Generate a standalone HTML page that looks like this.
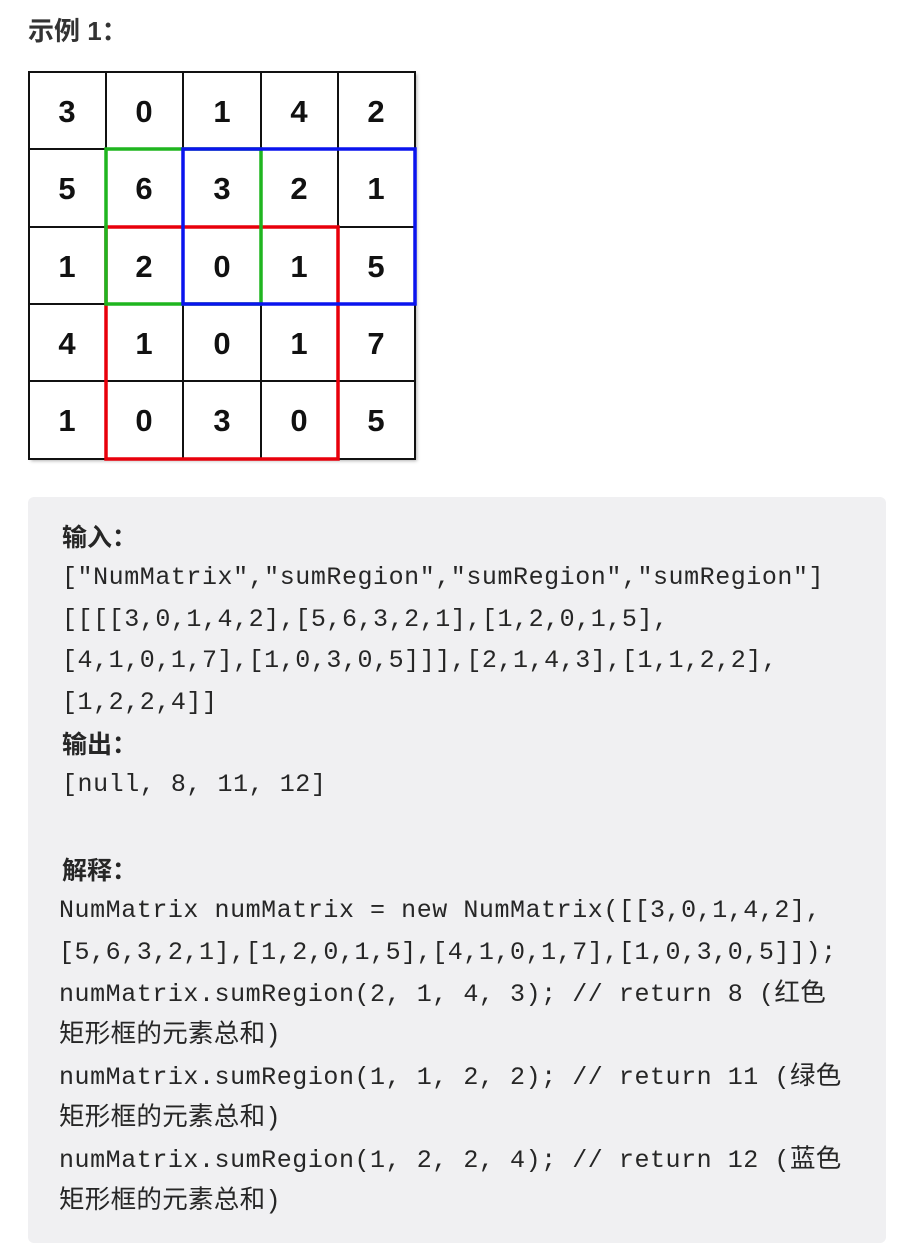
<!DOCTYPE html>
<html><head><meta charset="utf-8"><style>
body{margin:0;width:900px;height:1258px;background:#fff;position:relative;overflow:hidden;font-family:"Liberation Sans","Noto Sans CJK SC",sans-serif;color:#262626}
.t{position:absolute;left:28px;top:11px;font-size:26px;font-weight:bold;color:#333}
.box{position:absolute;left:28px;top:497px;width:858px;height:746px;background:#f0f0f2;border-radius:6px}
.l{position:absolute;white-space:pre;font-family:"Liberation Mono","Noto Sans CJK SC",monospace;font-size:25px;letter-spacing:0.55px;line-height:40px;color:#262626}
.c{font-size:25.5px;letter-spacing:0.3px}
.b{font-family:"Liberation Sans","Noto Sans CJK SC",sans-serif;font-weight:bold;font-size:25px;letter-spacing:0}
</style></head><body>
<div class="t">示例 1：</div>
<svg style="position:absolute;left:0;top:0" width="450" height="470">
<defs><filter id="s"><feDropShadow dx="2" dy="2" stdDeviation="1.5" flood-opacity="0.3"/></filter></defs>
<rect x="29" y="72" width="386" height="387" fill="#fff" filter="url(#s)"/>
<g stroke="#111" stroke-width="2" fill="none">
<rect x="29" y="72" width="386" height="387"/>
<path d="M106 72V459M183 72V459M261 72V459M338 72V459M29 149H415M29 227H415M29 304H415M29 381H415"/>
</g>
<g font-family="Liberation Sans" font-weight="bold" font-size="31" text-anchor="middle" fill="#111">
<text x="67" y="122">3</text><text x="144" y="122">0</text><text x="222" y="122">1</text><text x="299" y="122">4</text><text x="376" y="122">2</text>
<text x="67" y="199">5</text><text x="144" y="199">6</text><text x="222" y="199">3</text><text x="299" y="199">2</text><text x="376" y="199">1</text>
<text x="67" y="277">1</text><text x="144" y="277">2</text><text x="222" y="277">0</text><text x="299" y="277">1</text><text x="376" y="277">5</text>
<text x="67" y="354">4</text><text x="144" y="354">1</text><text x="222" y="354">0</text><text x="299" y="354">1</text><text x="376" y="354">7</text>
<text x="67" y="431">1</text><text x="144" y="431">0</text><text x="222" y="431">3</text><text x="299" y="431">0</text><text x="376" y="431">5</text>
</g>
<rect x="106" y="227" width="232" height="232" fill="none" stroke="#e8000b" stroke-width="3.5"/>
<rect x="106" y="149" width="155" height="155" fill="none" stroke="#1fb51f" stroke-width="3.5"/>
<rect x="183" y="149" width="232" height="155" fill="none" stroke="#0a14ee" stroke-width="3.5"/>
</svg>
<div class="box"></div>
<div class="l b" style="left:62px;top:518px">输入：</div>
<div class="l" style="left:62px;top:558px">["NumMatrix","sumRegion","sumRegion","sumRegion"]</div>
<div class="l" style="left:62px;top:600px">[[[[3,0,1,4,2],[5,6,3,2,1],[1,2,0,1,5],</div>
<div class="l" style="left:62px;top:641px">[4,1,0,1,7],[1,0,3,0,5]]],[2,1,4,3],[1,1,2,2],</div>
<div class="l" style="left:62px;top:683px">[1,2,2,4]]</div>
<div class="l b" style="left:62px;top:725px">输出：</div>
<div class="l" style="left:62px;top:765px">[null, 8, 11, 12]</div>
<div class="l b" style="left:62px;top:851px">解释：</div>
<div class="l" style="left:59px;top:891px">NumMatrix numMatrix = new NumMatrix([[3,0,1,4,2],</div>
<div class="l" style="left:59px;top:933px">[5,6,3,2,1],[1,2,0,1,5],[4,1,0,1,7],[1,0,3,0,5]]);</div>
<div class="l" style="left:59px;top:975px">numMatrix.sumRegion(2, 1, 4, 3); // return 8 (<span class="c">红色</span></div>
<div class="l c" style="left:59px;top:1016px">矩形框的元素总和)</div>
<div class="l" style="left:59px;top:1058px">numMatrix.sumRegion(1, 1, 2, 2); // return 11 (<span class="c">绿色</span></div>
<div class="l c" style="left:59px;top:1099px">矩形框的元素总和)</div>
<div class="l" style="left:59px;top:1141px">numMatrix.sumRegion(1, 2, 2, 4); // return 12 (<span class="c">蓝色</span></div>
<div class="l c" style="left:59px;top:1182px">矩形框的元素总和)</div>
</body></html>
